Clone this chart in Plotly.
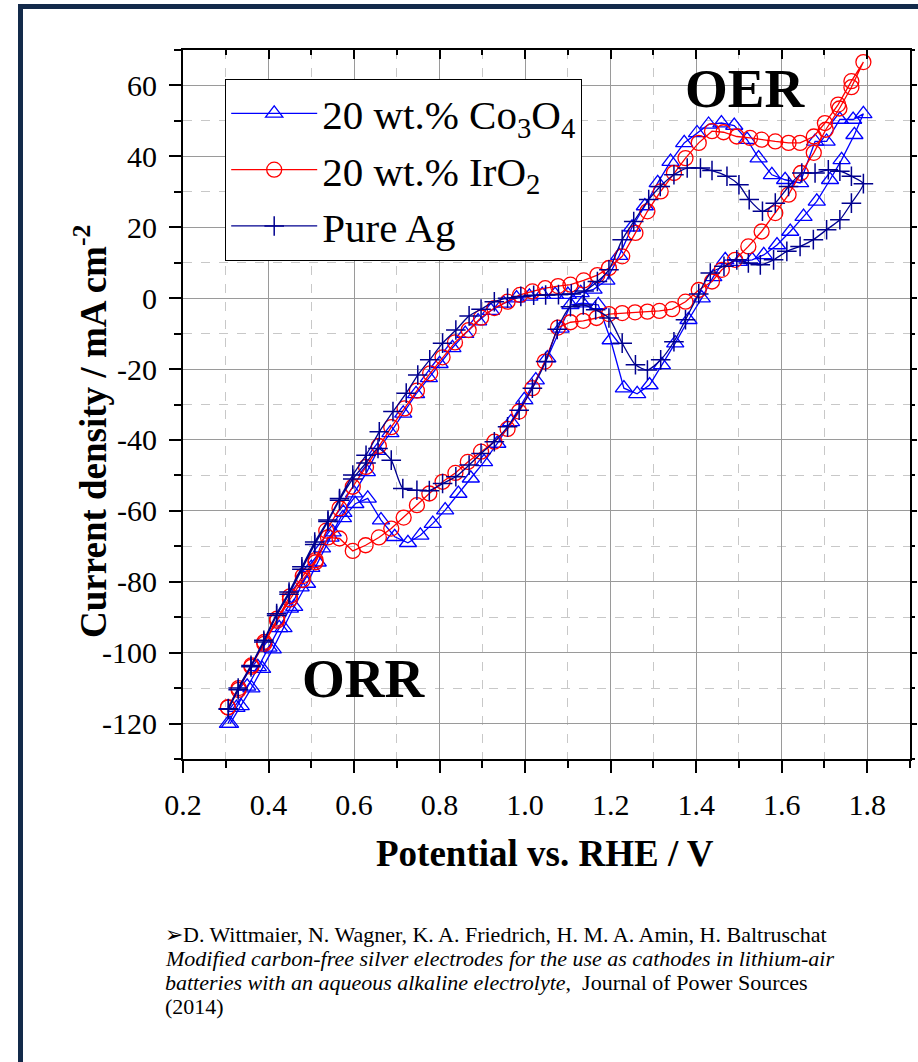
import plotly.graph_objects as go

# ---------------- data ----------------
# 20 wt.% IrO2 : anodic sweep 0.3 -> 1.8 V, then cathodic sweep back
iro2_v = [0.305, 0.33, 0.36, 0.39, 0.42, 0.45, 0.48, 0.51, 0.535, 0.566, 0.597, 0.628, 0.658, 0.687,
          0.718, 0.747, 0.778, 0.807, 0.836, 0.868, 0.897, 0.928, 0.959, 0.988, 1.017, 1.047, 1.077,
          1.106, 1.137, 1.169, 1.196, 1.227, 1.258, 1.286, 1.317, 1.348, 1.375, 1.406, 1.437, 1.464,
          1.495, 1.526, 1.553, 1.585, 1.616, 1.643, 1.675, 1.701, 1.732, 1.763, 1.791,
          1.763, 1.735, 1.703, 1.675, 1.645, 1.616, 1.585, 1.553, 1.522, 1.491, 1.46, 1.437, 1.406,
          1.375, 1.344, 1.314, 1.286, 1.257, 1.227, 1.196, 1.167, 1.136, 1.106, 1.077, 1.046, 1.017,
          0.986, 0.959, 0.928, 0.897, 0.866, 0.837, 0.807, 0.776, 0.747, 0.716, 0.687, 0.658, 0.627,
          0.597, 0.566, 0.539, 0.51, 0.48, 0.45, 0.42, 0.39, 0.36, 0.33, 0.305]
iro2_j = [-115.4, -110, -103.6, -97, -90.4, -84.1, -78.4, -73.9, -65.6, -59.3, -53.2, -47.6, -41.7, -36.4,
          -31.1, -26.1, -21.2, -16.7, -12.5, -9, -5.5, -2.8, -1.0, 0.9, 1.9, 2.8, 3.4,
          3.8, 5.0, 6.5, 8.5, 11.8, 18.4, 24.5, 30.1, 35.3, 39.5, 43.8, 47.1, 46.8,
          45.6, 45.2, 44.7, 44.2, 43.8, 43.8, 45.6, 49.4, 54.6, 61.2, 66.6,
          59.5, 53.5, 47.5, 41, 35.3, 29.2, 24, 18.8, 14.6, 10.8, 8, 4.7, 2.3,
          -1.0, -3.1, -3.6, -3.8, -4.0, -4.2, -4.5, -5.6, -6.4, -6.8, -8.3, -17.9, -25.4,
          -32, -36.9, -40.5, -43.3, -46.2, -49.3, -51.8, -55.1, -58.4, -61.9, -65, -67.5, -69.7,
          -71.3, -67.8, -67.5, -74.5, -79.5, -85, -91, -97.5, -104, -110.5, -115.5]

# 20 wt.% Co3O4
co_v = [0.305, 0.325, 0.35, 0.375, 0.40, 0.425, 0.45, 0.475, 0.50, 0.525, 0.55, 0.575, 0.60, 0.63,
        0.655, 0.685, 0.715, 0.745, 0.775, 0.80, 0.83, 0.86, 0.89, 0.92, 0.95, 0.98, 1.01, 1.04,
        1.07, 1.10, 1.13, 1.16, 1.19, 1.22, 1.25, 1.28, 1.31, 1.34, 1.372, 1.402, 1.429, 1.459,
        1.489, 1.519, 1.546, 1.577, 1.608, 1.643, 1.678, 1.705, 1.736, 1.767, 1.791,
        1.77, 1.74, 1.713, 1.682, 1.651, 1.62, 1.589, 1.558, 1.531, 1.5, 1.468, 1.44, 1.413,
        1.382, 1.351, 1.32, 1.291, 1.262, 1.231, 1.2, 1.171, 1.134, 1.106, 1.083, 1.052, 1.025,
        0.998, 0.967, 0.935, 0.904, 0.873, 0.844, 0.813, 0.784, 0.755, 0.726, 0.695, 0.663, 0.632,
        0.603, 0.574, 0.545, 0.515, 0.49, 0.46, 0.435, 0.41, 0.385, 0.36, 0.335, 0.31]
co_j = [-120, -115.5, -109.5, -104, -98.5, -93, -87.5, -81.5, -76, -70.5, -66, -60.5, -55, -49,
        -43, -38, -32.5, -27, -22.5, -18.5, -14, -10, -6.5, -3.5, -1.5, 0, 0.5, 1,
        1, 1, 1.5, 2.5, 5, 12, 20, 26, 32.5, 38.5, 43.8, 46.6, 49, 49.4,
        48.7, 44.7, 39.5, 34.8, 33.4, 32.5, 44.2, 44.2, 50.4, 50.4, 52,
        46.1, 39, 33.4, 27.3, 23, 18.8, 15, 12.2, 10.8, 10.3, 10.8, 6, 0,
        -6.1, -12.7, -18.8, -24.5, -27, -25.4, -11.8, -1.9, -1.4, -1.9, -8.5, -16.9, -23.1,
        -28.7, -34.9, -41, -46.2, -50.8, -55.1, -59.8, -63.6, -66.9, -69, -67.3, -62.6, -56.5,
        -58, -62, -67.5, -74.5, -80.5, -87, -93, -99, -104.5, -110, -115, -120]

# Pure Ag
ag_v = [0.306, 0.329, 0.359, 0.389, 0.419, 0.448, 0.478, 0.508, 0.539, 0.566, 0.597, 0.628, 0.659,
        0.691, 0.722, 0.749, 0.777, 0.807, 0.838, 0.869, 0.897, 0.928, 0.959, 0.99, 1.02, 1.048,
        1.078, 1.108, 1.138, 1.169, 1.196, 1.227, 1.254, 1.289, 1.316, 1.348, 1.379, 1.41, 1.437,
        1.472, 1.5, 1.524, 1.555, 1.585, 1.616, 1.647, 1.678, 1.709, 1.736, 1.763, 1.791,
        1.763, 1.736, 1.705, 1.674, 1.643, 1.612, 1.581, 1.55, 1.522, 1.495, 1.465, 1.433, 1.406,
        1.375, 1.348, 1.317, 1.286, 1.258, 1.227, 1.196, 1.165, 1.136, 1.106, 1.075, 1.048, 1.017,
        0.986, 0.959, 0.928, 0.897, 0.869, 0.838, 0.807, 0.776, 0.747, 0.714, 0.687, 0.656, 0.628,
        0.597, 0.566, 0.539, 0.508, 0.478, 0.448, 0.419, 0.389, 0.359, 0.329, 0.306]
ag_j = [-115.8, -110, -103.6, -96.5, -89, -82.9, -75.8, -68.8, -62.6, -56.5, -49.9, -44.3, -37.7,
        -32, -26.8, -21.7, -17.4, -12.7, -9, -5, -3.1, -1, 0, 0.5, 0.8, 0.9,
        1.0, 1.2, 2, 4.7, 8, 16.5, 21.6, 27.8, 31.5, 34.8, 36.7, 36.7, 36,
        34.4, 32, 27.8, 24.5, 26.8, 31.5, 35.3, 35.3, 36.2, 35.8, 34.4, 32.3,
        26.8, 22.1, 19.3, 16.5, 14.6, 13.2, 10.8, 9.4, 9.9, 10.8, 9, 7.1, 1.2,
        -6.1, -12.3, -17.4, -20.3, -18.8, -12.7, -5.6, -3.3, -1.9, -2.4, -8.8, -17.9, -25.4,
        -31.6, -36.3, -40.5, -43.8, -47.1, -50.4, -52.3, -54.3, -54.2, -53.7, -45.7, -42.4, -46.5,
        -51, -57, -63, -69.5, -76.5, -83.5, -89.5, -97, -104, -110.5, -116]

x_ticks = [0.2, 0.4, 0.6, 0.8, 1.0, 1.2, 1.4, 1.6, 1.8]
x_tick_text = ["0.2", "0.4", "0.6", "0.8", "1.0", "1.2", "1.4", "1.6", "1.8"]
y_ticks = [60, 40, 20, 0, -20, -40, -60, -80, -100, -120]
y_tick_text = ["60", "40", "20", "0", "-20", "-40", "-60", "-80", "-100", "-120"]

citation_lines = [
    "\u27a2D. Wittmaier, N. Wagner, K. A. Friedrich, H. M. A. Amin, H. Baltruschat",
    "<i>Modified carbon-free silver electrodes for the use as cathodes in lithium-air</i>",
    "<i>batteries with an aqueous alkaline electrolyte</i>,  Journal of Power Sources",
    "(2014)",
]

# ---------------- figure ----------------
SERIF = "Liberation Serif, Times New Roman, serif"
W, H = 918, 1062
L, R, T, B = 183, 8, 50, 303
PW, PH = W - L - R, H - T - B
X_RANGE = [0.2, 1.9]
Y_RANGE = [-130, 70]


def px(x):
    return (x - L) / PW


def py(y):
    return (H - B - y) / PH


fig = go.Figure()
fig.add_trace(go.Scatter(
    x=co_v, y=co_j, mode="lines+markers", name="20 wt.% Co<sub>3</sub>O<sub>4</sub>",
    legendgroup="co",
    line=dict(color="#0000ff", width=1.3),
    marker=dict(symbol="triangle-up-open", size=15, color="#0000ff", line=dict(width=1.3, color="#0000ff")),
))
fig.add_trace(go.Scatter(
    x=iro2_v, y=iro2_j, mode="lines+markers", name="20 wt.% IrO<sub>2</sub>",
    legendgroup="ir",
    line=dict(color="#ff0000", width=1.3),
    marker=dict(symbol="circle-open", size=15, color="#ff0000", line=dict(width=1.3, color="#ff0000")),
))
fig.add_trace(go.Scatter(
    x=ag_v, y=ag_j, mode="lines+markers", name="Pure Ag",
    legendgroup="ag",
    line=dict(color="#00008f", width=1.3, shape="spline", smoothing=0.6),
    marker=dict(symbol="cross-thin-open", size=14, color="#00008f", line=dict(width=1.5, color="#00008f")),
))
# helper trace so the mirrored top / right tick axes are drawn
fig.add_trace(go.Scatter(x=[X_RANGE[0]], y=[Y_RANGE[0]], xaxis="x2", yaxis="y2", mode="markers",
                         marker=dict(opacity=0), showlegend=False, hoverinfo="skip"))

axis_common = dict(
    showline=True, linecolor="black", linewidth=2.2, mirror=True,
    ticks="outside", ticklen=12, tickwidth=2, tickcolor="black",
    showgrid=True, gridcolor="#9a9a9a", gridwidth=1.3,
    tickfont=dict(family=SERIF, size=30, color="black"),
    zeroline=False,
)
fig.update_layout(
    xaxis=dict(range=X_RANGE, tickvals=x_ticks, ticktext=x_tick_text,
               minor=dict(dtick=0.1, tick0=0.1, ticks="outside", ticklen=7, tickwidth=2, tickcolor="black",
                          showgrid=True, gridcolor="#c8c8c8", griddash="dash", gridwidth=1),
               ticklabelstandoff=6, **axis_common),
    yaxis=dict(range=Y_RANGE, tickvals=y_ticks, ticktext=y_tick_text,
               minor=dict(dtick=10, tick0=-130, ticks="outside", ticklen=7, tickwidth=2, tickcolor="black",
                          showgrid=True, gridcolor="#c8c8c8", griddash="dash", gridwidth=1),
               ticklabelstandoff=6, **axis_common),
    xaxis2=dict(range=X_RANGE, overlaying="x", side="top", anchor="y2", tickvals=x_ticks,
                showticklabels=False, ticks="inside", ticklen=9, tickwidth=2, tickcolor="black",
                minor=dict(dtick=0.1, tick0=0.1, ticks="inside", ticklen=5, tickwidth=1.5, tickcolor="black",
                           showgrid=False),
                showgrid=False, showline=False, zeroline=False),
    yaxis2=dict(range=Y_RANGE, overlaying="y", side="right", anchor="x2", tickvals=y_ticks,
                showticklabels=False, ticks="outside", ticklen=6, tickwidth=2, tickcolor="black",
                minor=dict(dtick=10, tick0=-130, ticks="outside", ticklen=4, tickwidth=1.5, tickcolor="black",
                           showgrid=False),
                showgrid=False, showline=False, zeroline=False),
)

annotations = [
    dict(text="<b>OER</b>", x=px(745), y=py(88)),
    dict(text="<b>ORR</b>", x=px(364), y=py(678)),
]
for a in annotations:
    a.update(xref="paper", yref="paper", xanchor="center", yanchor="middle", showarrow=False,
             font=dict(family=SERIF, size=55, color="black"))
annotations.append(dict(text="<b>Potential vs. RHE / V</b>", x=px(545), y=py(853), xref="paper", yref="paper",
                        xanchor="center", yanchor="middle", showarrow=False,
                        font=dict(family=SERIF, size=37, color="black")))
annotations.append(dict(text="<b>Current density / mA cm<sup>-2</sup></b>", x=px(90), y=py(432),
                        xref="paper", yref="paper", xanchor="center", yanchor="middle", textangle=-90,
                        showarrow=False, font=dict(family=SERIF, size=37, color="black")))
for i, line in enumerate(citation_lines):
    annotations.append(dict(text=line, x=px(163), y=py(934 + 24 * i), xref="paper", yref="paper",
                            xanchor="left", yanchor="middle", align="left", showarrow=False,
                            font=dict(family=SERIF, size=22, color="black")))

fig.update_layout(
    width=W, height=H,
    margin=dict(l=L, r=R, t=T, b=B, autoexpand=False),
    paper_bgcolor="white", plot_bgcolor="white",
    font=dict(family=SERIF, color="black"),
    showlegend=True,
    legend=dict(
        x=px(225), y=py(79), xanchor="left", yanchor="top",
        bgcolor="white", bordercolor="black", borderwidth=1.2,
        font=dict(family=SERIF, size=41, color="black"),
        itemwidth=86, tracegroupgap=0,
    ),
    annotations=annotations,
    shapes=[
        dict(type="rect", xref="paper", yref="paper", x0=px(18), x1=px(918), y0=py(9), y1=py(4),
             fillcolor="#132a4a", line=dict(width=0), layer="above"),
        dict(type="rect", xref="paper", yref="paper", x0=px(18), x1=px(23), y0=py(1062), y1=py(4),
             fillcolor="#132a4a", line=dict(width=0), layer="above"),
    ],
)

fig.write_html("out.html")
